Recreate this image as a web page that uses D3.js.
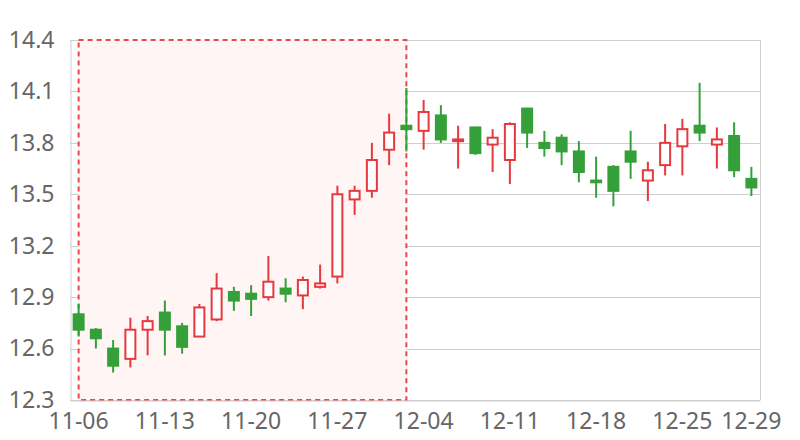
<!DOCTYPE html>
<html>
<head>
<meta charset="utf-8">
<script src="https://cdn.jsdelivr.net/npm/d3@7"></script>
<style>
  html, body { margin: 0; padding: 0; background: #fff; }
  svg { display: block; font-family: "Noto Sans", "Open Sans", sans-serif; }
</style>
</head>
<body>
<svg id="chart" width="800" height="440"></svg>
<script>
const dates = ["11-06","11-07","11-08","11-09","11-10","11-13","11-14","11-15","11-16","11-17",
               "11-20","11-21","11-22","11-23","11-24","11-27","11-28","11-29","11-30","12-01",
               "12-04","12-05","12-06","12-07","12-08","12-11","12-12","12-13","12-14","12-15",
               "12-18","12-19","12-20","12-21","12-22","12-25","12-26","12-27","12-28","12-29"];
const openVals  = [12.80,12.71,12.60,12.54,12.71,12.81,12.73,12.67,12.77,12.93,
                   12.92,12.90,12.95,12.91,12.96,13.02,13.47,13.52,13.76,13.90,
                   13.87,13.96,13.81,13.89,13.79,13.70,14.00,13.80,13.83,13.75,
                   13.58,13.66,13.75,13.58,13.67,13.78,13.90,13.79,13.84,13.59];
const closeVals = [12.71,12.66,12.50,12.71,12.76,12.71,12.61,12.84,12.95,12.88,
                   12.89,12.99,12.92,13.00,12.98,13.50,13.52,13.70,13.86,13.88,
                   13.98,13.82,13.82,13.74,13.83,13.91,13.86,13.77,13.75,13.63,
                   13.57,13.52,13.69,13.64,13.80,13.88,13.86,13.82,13.64,13.54];
const lowVals   = [12.67,12.60,12.46,12.49,12.56,12.56,12.57,12.67,12.76,12.82,
                   12.79,12.88,12.87,12.83,12.95,12.98,13.38,13.48,13.67,13.75,
                   13.76,13.80,13.65,13.73,13.63,13.56,13.77,13.72,13.67,13.57,
                   13.48,13.43,13.59,13.46,13.61,13.61,13.81,13.65,13.60,13.49];
const highVals  = [12.86,12.72,12.65,12.78,12.79,12.88,12.75,12.86,13.04,12.96,
                   12.97,13.14,13.01,13.02,13.09,13.55,13.55,13.80,13.97,14.12,
                   14.05,14.02,13.90,13.89,13.88,13.92,14.00,13.87,13.85,13.81,
                   13.72,13.67,13.87,13.69,13.91,13.94,14.15,13.89,13.92,13.66];
const yTicks = [12.3, 12.6, 12.9, 13.2, 13.5, 13.8, 14.1, 14.4];
const xTickLabels = ["11-06","11-13","11-20","11-27","12-04","12-11","12-18","12-25","12-29"];
const highlightStart = "11-06";
const highlightEnd = "12-01";

const upColor = "#e6393f";
const downColor = "#35a03a";
const gridColor = "#cfcfcf";
const textColor = "#666";

const margin = {left: 70, right: 40, top: 40, bottom: 40};
const W = 800, H = 440;
const svg = d3.select("#chart");

const x = d3.scaleBand().domain(dates).range([margin.left, W - margin.right]).padding(0);
const y = d3.scaleLinear().domain([12.3, 14.4]).range([H - margin.bottom, margin.top]);
const cx = d => x(d) + x.bandwidth() / 2;

// grid lines
svg.append("g").selectAll("line").data(yTicks).join("line")
  .attr("x1", margin.left).attr("x2", W - margin.right)
  .attr("y1", d => Math.round(y(d)) + 0.5).attr("y2", d => Math.round(y(d)) + 0.5)
  .attr("stroke", gridColor).attr("stroke-width", 1);
// right border
svg.append("line")
  .attr("x1", W - margin.right + 0.5).attr("x2", W - margin.right + 0.5)
  .attr("y1", margin.top).attr("y2", H - margin.bottom)
  .attr("stroke", gridColor);

// highlighted area
const hx0 = cx(highlightStart), hx1 = cx(highlightEnd);
svg.append("rect")
  .attr("x", hx0).attr("y", margin.top)
  .attr("width", hx1 - hx0).attr("height", H - margin.bottom - margin.top)
  .attr("fill", "#fff5f5")
  .attr("stroke", "#e8474c").attr("stroke-width", 2)
  .attr("stroke-dasharray", "5,4");

// axes
const yAxis = d3.axisLeft(y).tickValues(yTicks).tickFormat(d3.format(".1f")).tickSize(0).tickPadding(16);
const yg = svg.append("g").attr("transform", `translate(${margin.left + 0.5},0)`).call(yAxis);
yg.select(".domain").attr("stroke", gridColor);
yg.selectAll("text").attr("fill", textColor).attr("font-size", 23)
  .attr("font-family", "'Noto Sans', 'Open Sans', sans-serif");

const xAxis = d3.axisBottom(x).tickValues(xTickLabels).tickSize(0).tickPadding(12);
const xg = svg.append("g").attr("transform", `translate(0,${H - margin.bottom + 0.5})`).call(xAxis);
xg.select(".domain").attr("stroke", gridColor);
xg.selectAll("text").attr("fill", textColor).attr("font-size", 23)
  .attr("font-family", "'Noto Sans', 'Open Sans', sans-serif");

// candles
const data = dates.map((d, i) => ({date: d, o: openVals[i], c: closeVals[i], l: lowVals[i], h: highVals[i]}));
const bodyW = 10;
const g = svg.append("g");
const cand = g.selectAll("g").data(data).join("g");
cand.append("line")
  .attr("x1", d => cx(d.date)).attr("x2", d => cx(d.date))
  .attr("y1", d => y(d.h)).attr("y2", d => y(d.l))
  .attr("stroke", d => d.c >= d.o ? upColor : downColor)
  .attr("stroke-width", 2);
cand.append("rect")
  .attr("x", d => cx(d.date) - bodyW / 2)
  .attr("y", d => y(Math.max(d.o, d.c)))
  .attr("width", bodyW)
  .attr("height", d => Math.max(0.5, Math.abs(y(d.o) - y(d.c))))
  .attr("fill", d => d.c >= d.o ? "#ffffff" : downColor)
  .attr("stroke", d => d.c >= d.o ? upColor : downColor)
  .attr("stroke-width", 2);
</script>
</body>
</html>
